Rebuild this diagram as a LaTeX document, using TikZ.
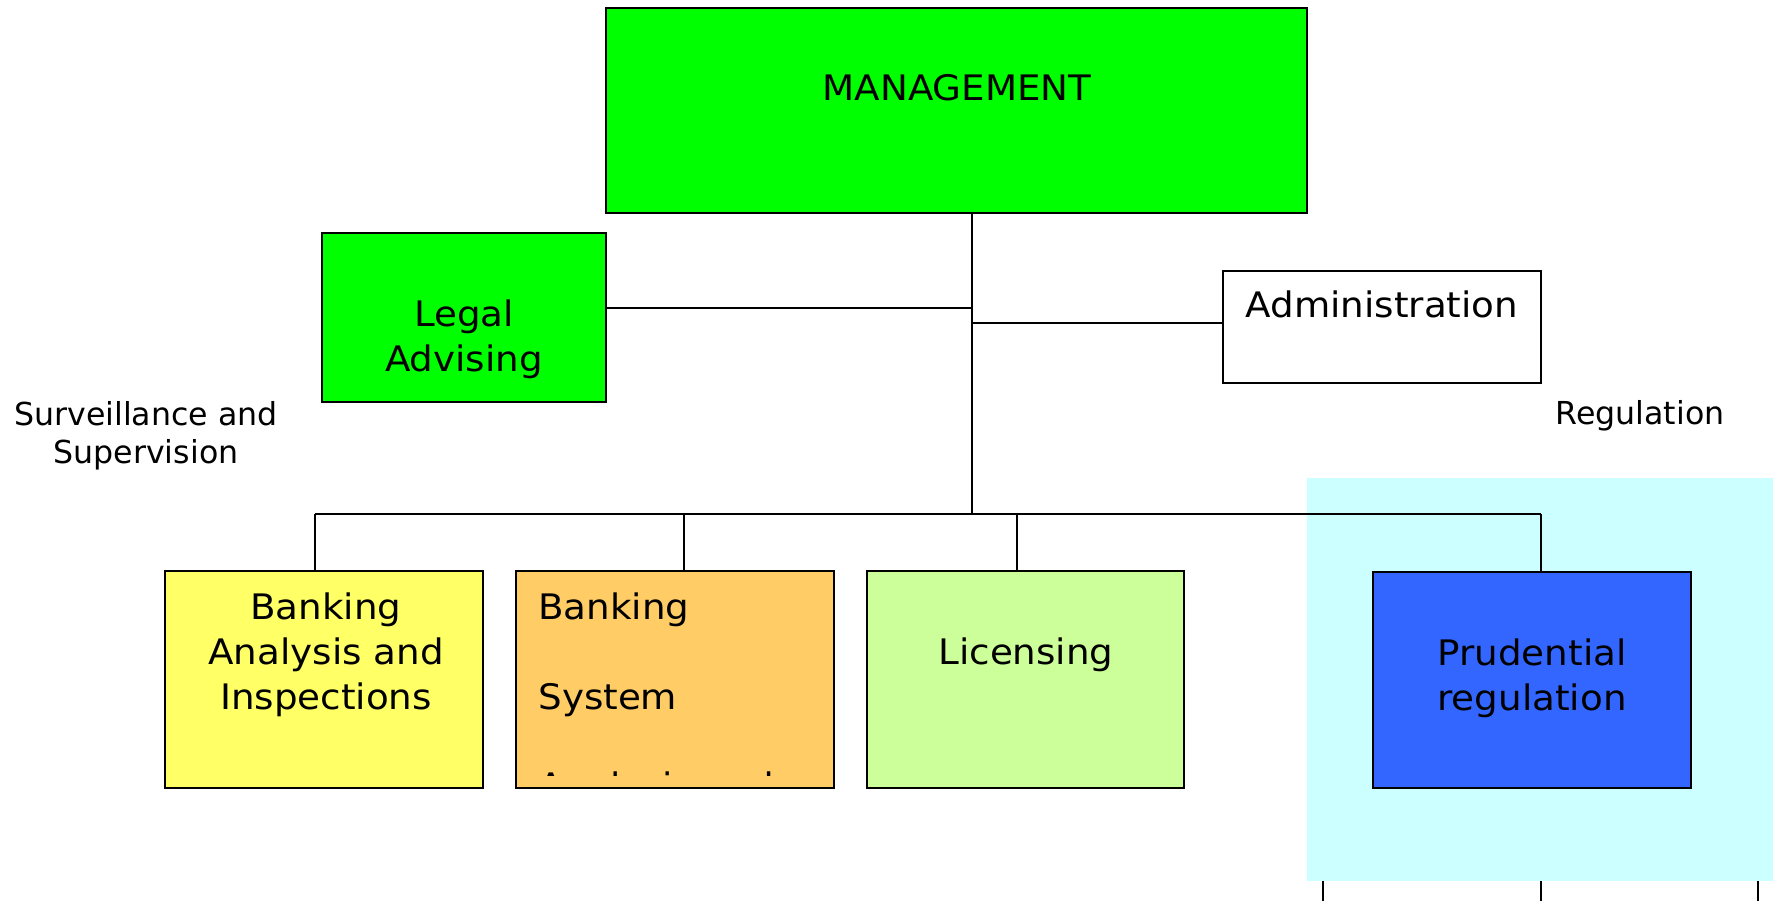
\documentclass[tikz,border=0pt]{standalone}
\usepackage{fontspec}
\setmainfont{DejaVu Sans}
\newfontfamily\boxfont{DejaVu Sans}[FakeStretch=1.06]
\usetikzlibrary{fit}

\definecolor{mgmtgreen}{HTML}{00FF00}
\definecolor{inspyellow}{HTML}{FFFF66}
\definecolor{sysorange}{HTML}{FFCC66}
\definecolor{licgreen}{HTML}{CCFF99}
\definecolor{prudblue}{HTML}{3366FF}
\definecolor{regcyan}{HTML}{CCFFFF}

\begin{document}
\begin{tikzpicture}[
        x=0.02cm,
        y=-0.02cm,
        font=\boxfont\fontsize{20}{25.6}\selectfont,
        % Styles
        unit/.style={
            rectangle,
            draw=black,
            line width=1.1pt,
            inner sep=0pt
          },
        boxtext/.style={
            inner sep=0pt,
            align=center
          },
        side/.style={
            inner sep=0pt,
            align=center,
            font=\rmfamily\fontsize{18}{21.6}\selectfont
          },
        link/.style={
            draw=black,
            line width=0.85pt
          }
      ]
      \useasboundingbox (0,0) rectangle (1773,901);

      % Regulation area (background)
      \node[fit={(1307,478) (1773,881)}, inner sep=0pt, fill=regcyan] (regarea) {};
      \foreach \x in {1323,1541,1758}
        \draw[link] (\x,881) -- (\x,901);

      % Nodes
      \node[unit, fill=mgmtgreen, fit={(606,8) (1307,213)}] (mgmt) {};
      \node[unit, fill=mgmtgreen, fit={(322,233) (606,402)}] (legal) {};
      \node[unit, fill=white, fit={(1223,271) (1541,383)}] (admin) {};

      % Junctions
      \coordinate (hub) at (972,514);
      \coordinate (jlegal) at (972,308);
      \coordinate (jadmin) at (972,323);
      \coordinate (b1) at (315,514);
      \coordinate (b2) at (684,514);
      \coordinate (b3) at (1017,514);
      \coordinate (b4) at (1541,514);

      % Connectors
      \draw[link] (hub |- mgmt.south) -- (hub);
      \draw[link] (legal.east |- jlegal) -- (jlegal);
      \draw[link] (jadmin) -- (admin.west |- jadmin);
      \draw[link] (b1) -- (b4);

      % Departments
      \node[unit, fill=inspyellow, fit={(165,571) (483,788)}] (inspect) {};
      \node[unit, fill=sysorange, fit={(516,571) (834,788)}] (system) {};
      \node[unit, fill=licgreen, fit={(867,571) (1184,788)}] (licensing) {};
      \node[unit, fill=prudblue, fit={(1373,572) (1691,788)}] (prudential) {};

      \draw[link] (b1) -- (b1 |- inspect.north);
      \draw[link] (b2) -- (b2 |- system.north);
      \draw[link] (b3) -- (b3 |- licensing.north);
      \draw[link] (b4) -- (b4 |- prudential.north);

      % Texts
      \node[boxtext, anchor=base] (mgmt-t) at (957,101) {MANAGEMENT};
      \node[boxtext, anchor=north] (legal-t) at (464,299) {Legal\\Advising};
      \node[boxtext, anchor=base] (admin-t) at (1382,318) {Administration};
      \node[boxtext, anchor=north] (inspect-t) at (326,592) {Banking\\Analysis and\\Inspections};
      \begin{scope}
        \clip (516,571) rectangle (834,775);
        \node[boxtext, align=left, anchor=north west, font=\boxfont\fontsize{20}{51.2}\selectfont] (system-t) at (538,592) {Banking\\System\\Analysis and};
      \end{scope}
      \node[boxtext, anchor=base] (licensing-t) at (1026,664) {Licensing};
      \node[boxtext, anchor=north] (prudential-t) at (1532,638) {Prudential\\regulation};

      % Side captions
      \node[side, anchor=north] (surv) at (146,401) {Surveillance and\\Supervision};
      \node[side, anchor=base] (reg) at (1640,425) {Regulation};

    \end{tikzpicture}
\end{document}
